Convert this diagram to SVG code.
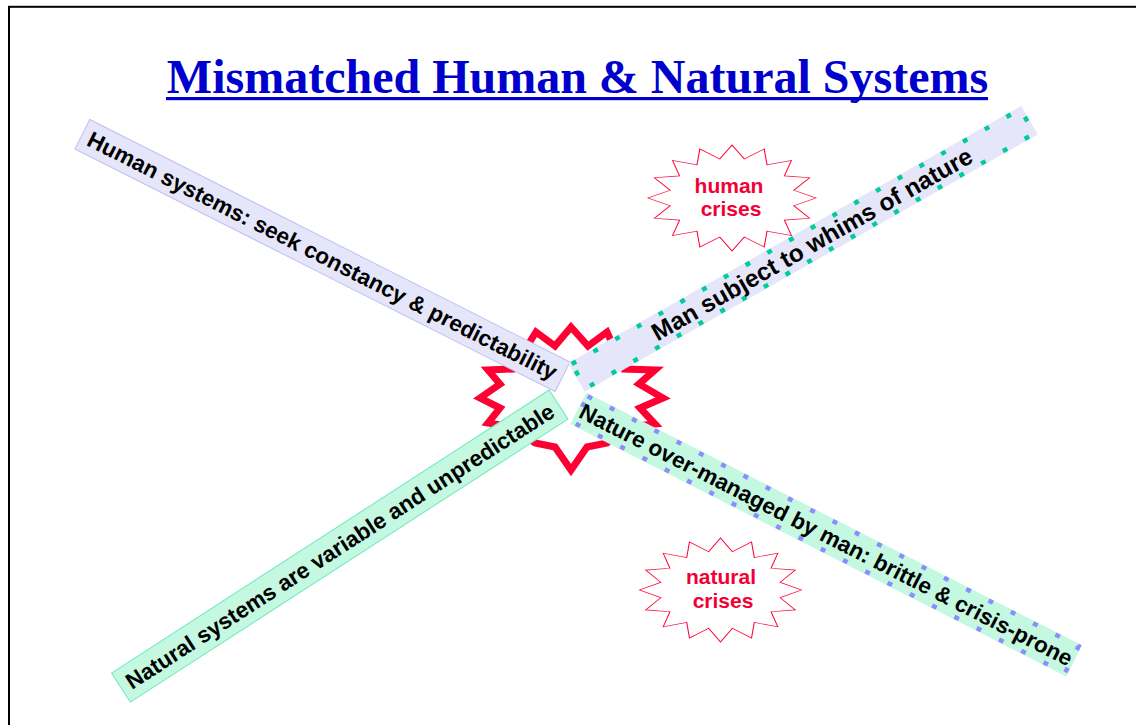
<svg xmlns="http://www.w3.org/2000/svg" width="1136" height="725" viewBox="0 0 1136 725">
<style>
.bar-text{font-family:"Liberation Sans",Arial,sans-serif;font-weight:bold;font-size:22.5px;fill:#000;text-anchor:middle}
.star-text{font-family:"Liberation Sans",Arial,sans-serif;font-weight:bold;font-size:21px;fill:#F20035;text-anchor:middle}
.star{fill:#fff;stroke:#FF0033;stroke-width:1.3;vector-effect:non-scaling-stroke;stroke-linejoin:miter}
.lav{fill:#E6E6FA}
.mint{fill:#C4F8E0}
</style>
<defs>
<polygon id="star16" points="100,0 73.6,14.6 92.4,38.3 62.4,41.7 70.7,70.7 41.7,62.4 38.3,92.4 14.6,73.6 0,100 -14.6,73.6 -38.3,92.4 -41.7,62.4 -70.7,70.7 -62.4,41.7 -92.4,38.3 -73.6,14.6 -100,0 -73.6,-14.6 -92.4,-38.3 -62.4,-41.7 -70.7,-70.7 -41.7,-62.4 -38.3,-92.4 -14.6,-73.6 0,-100 14.6,-73.6 38.3,-92.4 41.7,-62.4 70.7,-70.7 62.4,-41.7 92.4,-38.3 73.6,-14.6"/>
</defs>
<rect width="1136" height="725" fill="#fff"/>
<rect x="9" y="6.8" width="1200" height="800" fill="none" stroke="#000" stroke-width="2"/>

<g id="title">
<text x="577.5" y="93" font-family="'Liberation Serif','Times New Roman',serif" font-weight="bold" font-size="48" fill="#0000CC" text-anchor="middle">Mismatched Human &amp; Natural Systems</text>
<rect x="166" y="97" width="822" height="3.2" fill="#0000CC"/>
</g>

<g id="clash">
<polygon points="536,332 555,346 571,327 588,346 607,332 624,369 655,370 639,384 663,398 640,408 655,424 625,427 607,443 587,447 571,470 555,447 535,443 513,427 488,423 500,408 480,398 500,384 488,370 513,369" fill="#fff" stroke="#FF0033" stroke-width="7" stroke-miterlimit="10" stroke-linejoin="miter"/>
</g>

<g id="bar-human" transform="translate(322.5,255.5) rotate(26.8)">
<rect x="-269" y="-16.5" width="538" height="33" class="lav" stroke="#C0C0F0" stroke-width="1"/>
<text class="bar-text" x="0" y="8">Human systems: seek constancy &amp; predictability</text>
</g>

<g id="bar-man" transform="translate(803,248.75) rotate(-29.6)">
<rect x="-260.5" y="-16.5" width="521" height="33" class="lav"/>
<rect x="-258" y="-14" width="516" height="28" fill="none" stroke="#00CC99" stroke-width="4.5" stroke-dasharray="5 20"/>
<text class="bar-text" x="10" y="8.7" style="font-size:24.4px">Man subject to whims of nature</text>
</g>

<g id="bar-natural" transform="translate(339.75,546.1) rotate(-32.9)">
<rect x="-260.6" y="-17.3" width="521.2" height="34.6" class="mint" stroke="#70E8C0" stroke-width="1"/>
<text class="bar-text" x="0" y="8">Natural systems are variable and unpredictable</text>
</g>

<g id="bar-nature" transform="translate(826.25,534.6) rotate(27)">
<rect x="-278.2" y="-17.5" width="556.4" height="35" class="mint"/>
<rect x="-275.5" y="-15" width="551" height="30" fill="none" stroke="#8C8CFF" stroke-width="4.5" stroke-dasharray="5 20"/>
<text class="bar-text" x="0" y="8">Nature over-managed by man: brittle &amp; crisis-prone</text>
</g>

<g id="human-crises">
<use href="#star16" class="star" transform="translate(732,198) scale(0.84,0.53)"/>
<text class="star-text" x="729" y="192.5">human</text>
<text class="star-text" x="731" y="216">crises</text>
</g>

<g id="natural-crises">
<use href="#star16" class="star" transform="translate(720.5,590) scale(0.81,0.52)"/>
<text class="star-text" x="721" y="584">natural</text>
<text class="star-text" x="723" y="607.5">crises</text>
</g>
</svg>
